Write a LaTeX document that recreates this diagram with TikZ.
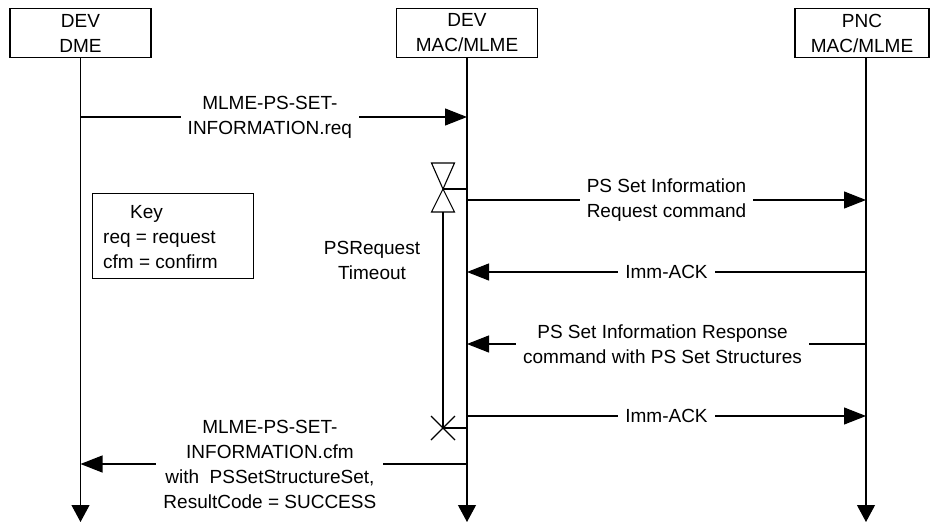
\documentclass[tikz,border=0pt]{standalone}
\usepackage{fontspec}
\setmainfont{Liberation Sans}
\usetikzlibrary{arrows.meta}
\begin{document}
\begin{tikzpicture}[x=1pt,y=-1pt,
  font=\fontsize{19}{25}\selectfont,
  every node/.style={inner sep=0pt},
  ent/.style={draw, line width=1.1pt, minimum width=141pt, minimum height=49pt, align=center},
  life/.style={line width=1.1pt, -{Triangle[length=17pt,width=18pt]}},
  msg/.style={line width=1.1pt, -{Triangle[length=22pt,width=17pt]}},
  lbl/.style={fill=white, align=center, inner xsep=7pt, inner ysep=1pt},
  plain/.style={line width=1.1pt}]
\useasboundingbox (0,0) rectangle (930,525);

% entities
\node[ent] (dme) at (80.5,33) {DEV\\DME};
\node[ent] (mac) at (467,33) {DEV\\MAC/MLME};
\node[ent, minimum width=134pt] (pnc) at (862,33) {PNC\\MAC/MLME};

% reference coordinates
\coordinate (yend) at (0,522);
\coordinate (pncl) at (866,57);
\coordinate (y1) at (0,117);
\coordinate (y2) at (0,200);
\coordinate (y3) at (0,272);
\coordinate (y4) at (0,344);
\coordinate (y5) at (0,416);
\coordinate (y6) at (0,464);

% lifelines
\draw[life] (dme.south) -- (dme.south |- yend);
\draw[life] (mac.south) -- (mac.south |- yend);
\draw[life] (pncl) -- (pncl |- yend);

% messages
\draw[msg] (dme.south |- y1) -- (mac.south |- y1)
  node[lbl, pos=0.49] (t1) {MLME-PS-SET-\\INFORMATION.req};
\draw[msg] (mac.south |- y2) -- (pncl |- y2)
  node[lbl, pos=0.5] (t2) {PS Set Information\\Request command};
\draw[msg] (pncl |- y3) -- (mac.south |- y3)
  node[lbl, pos=0.5] (t3) {Imm-ACK};
\draw[msg] (pncl |- y4) -- (mac.south |- y4)
  node[lbl, pos=0.51] (t4) {PS Set Information Response\\command with PS Set Structures};
\draw[msg] (mac.south |- y5) -- (pncl |- y5)
  node[lbl, pos=0.5] (t5) {Imm-ACK};
\draw[msg] (mac.south |- y6) -- (dme.south |- y6)
  node[lbl, pos=0.51] (t6) {MLME-PS-SET-\\INFORMATION.cfm\\with\ \ PSSetStructureSet,\\ResultCode = SUCCESS};

% timer
\coordinate (tm) at (443,189);
\coordinate (tb) at (443,212);
\coordinate (tx) at (443,428);
\draw[plain] (tm) -- ++(-11.5,-26) -- ++(23,0) -- cycle;
\draw[plain] (tm) -- ++(-11.5,23) -- ++(23,0) -- cycle;
\draw[plain] (tm) -- (tm -| mac.south);
\draw[plain] (tb) -- (tx);
\draw[plain] (tx) ++(-12,-12) -- ++(24,24);
\draw[plain] (tx) ++(-12,12) -- ++(24,-24);
\draw[plain] (tx) -- (tx -| mac.south);
\node[align=center] (tmo) at (372,260) {PSRequest\\Timeout};

% key
\node[draw, line width=1.1pt, minimum width=161pt, minimum height=85pt, anchor=north west] (keybox) at (92,193) {};
\node[anchor=west, align=left] (keytxt) at (103,237) {\hspace*{27pt}Key\\req = request\\cfm = confirm};
\end{tikzpicture}
\end{document}
